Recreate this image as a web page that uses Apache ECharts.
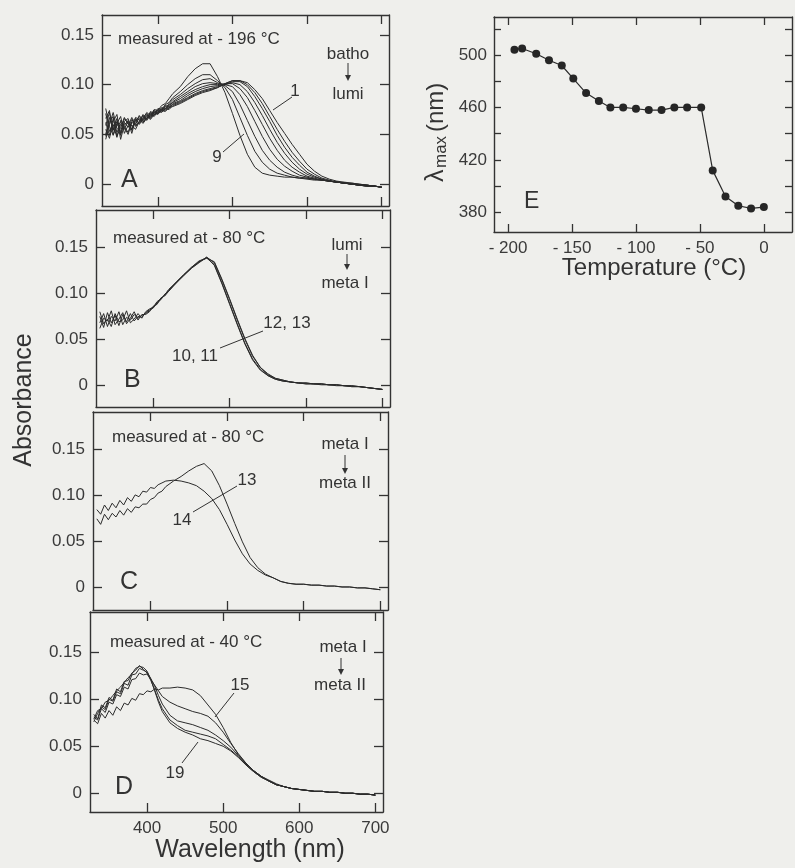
<!DOCTYPE html>
<html>
<head>
<meta charset="utf-8">
<script src="https://cdn.jsdelivr.net/npm/echarts@6/dist/echarts.min.js"></script>
<style>
  html, body { margin: 0; padding: 0; background: #efefec; }
  #chart { width: 795px; height: 868px; }
</style>
</head>
<body>
<div id="chart"></div>
<script>
// wavelength (nm) shared by every spectrum: 5 nm steps up to 420, then 10 nm
const wavelengths = [330, 335, 340, 345, 350, 355, 360, 365, 370, 375, 380, 385, 390, 395, 400, 405, 410, 415, 420,
  430, 440, 450, 460, 470, 480, 490, 500, 510, 520, 530, 540, 550, 560, 570, 580, 590, 600, 610, 620, 630, 640, 650, 660, 670, 680, 690, 700]

// A: measured at -196 C, batho -> lumi (curves 1..9)
const specA1 = [.062, .049, .066, .052, .060, .055, .064, .058, .061, .066, .062, .068, .065, .070, .071, .074, .073, .077, .078,
  .081, .085, .089, .092, .094, .097, .101, .104, .104, .102, .095, .086, .074, .062, .051, .040, .030, .020, .013, .008, .005, .003, .002, .001, .000, -.001, -.002, -.003]
const specA2 = [.050, .067, .054, .063, .051, .062, .057, .065, .059, .063, .069, .064, .070, .068, .073, .072, .076, .075, .079,
  .082, .086, .090, .093, .095, .097, .101, .104, .104, .100, .092, .081, .068, .055, .043, .032, .023, .015, .010, .006, .004, .002, .001, .001, .000, -.001, -.002, -.003]
const specA3 = [.071, .053, .060, .047, .064, .058, .052, .063, .066, .060, .065, .070, .066, .072, .070, .075, .074, .078, .080,
  .083, .087, .091, .094, .096, .098, .100, .103, .103, .098, .088, .076, .063, .049, .037, .027, .019, .012, .008, .005, .003, .002, .001, .000, -.001, -.001, -.002, -.003]
const specA4 = [.045, .060, .072, .056, .053, .066, .061, .055, .064, .068, .063, .066, .071, .069, .074, .073, .078, .076, .081,
  .084, .089, .093, .096, .098, .099, .100, .102, .100, .093, .082, .069, .055, .042, .031, .022, .015, .010, .007, .005, .003, .002, .001, .000, -.001, -.002, -.002, -.003]
const specA5 = [.066, .074, .050, .061, .068, .051, .059, .067, .058, .062, .067, .071, .067, .073, .071, .076, .075, .080, .082,
  .086, .091, .095, .098, .100, .100, .101, .101, .096, .087, .074, .060, .046, .034, .024, .017, .012, .008, .006, .004, .003, .002, .001, .000, -.001, -.002, -.002, -.003]
const specA6 = [.055, .046, .063, .070, .049, .063, .066, .054, .067, .065, .061, .066, .072, .070, .075, .074, .079, .078, .083,
  .088, .093, .098, .101, .102, .101, .100, .098, .090, .078, .063, .048, .035, .025, .018, .013, .009, .007, .005, .004, .003, .002, .001, .000, -.001, -.001, -.002, -.003]
const specA7 = [.076, .058, .049, .059, .062, .057, .050, .062, .060, .069, .064, .069, .068, .074, .072, .077, .076, .081, .085,
  .090, .096, .101, .105, .106, .102, .099, .093, .080, .064, .048, .034, .024, .017, .012, .009, .007, .006, .005, .004, .003, .002, .001, .000, -.001, -.002, -.002, -.003]
const specA8 = [.048, .063, .068, .048, .057, .067, .060, .059, .055, .063, .070, .065, .073, .071, .076, .075, .080, .082, .087,
  .093, .100, .106, .110, .110, .104, .097, .085, .067, .049, .033, .022, .015, .011, .009, .007, .006, .005, .004, .004, .003, .002, .001, .000, -.001, -.001, -.002, -.003]
const specA9 = [.059, .072, .055, .066, .045, .060, .063, .051, .065, .061, .066, .072, .069, .075, .074, .079, .081, .086, .091,
  .098, .108, .116, .121, .121, .108, .092, .071, .049, .030, .017, .011, .009, .008, .007, .007, .006, .006, .005, .004, .003, .002, .001, .000, -.001, -.002, -.002, -.003]

// B: measured at -80 C, lumi -> meta I (curves 10..13)
const specB10 = [.068, .078, .064, .075, .070, .080, .066, .074, .071, .077, .073, .076, .078, .081, .085, .089, .094, .098, .103,
  .111, .120, .127, .134, .139, .130, .110, .088, .066, .045, .028, .017, .011, .007, .005, .004, .003, .003, .002, .002, .001, .001, .000, .000, -.001, -.002, -.003, -.004]
const specB11 = [.075, .063, .079, .068, .076, .065, .077, .069, .078, .070, .075, .074, .079, .082, .084, .090, .093, .099, .102,
  .112, .120, .128, .134, .138, .131, .111, .089, .067, .046, .029, .018, .011, .007, .005, .004, .003, .002, .002, .002, .001, .001, .000, -.001, -.001, -.002, -.003, -.004]
const specB12 = [.062, .073, .070, .081, .066, .072, .079, .067, .073, .080, .071, .077, .077, .080, .086, .088, .095, .097, .102,
  .111, .119, .127, .133, .139, .133, .114, .093, .071, .050, .032, .020, .012, .008, .006, .004, .003, .003, .002, .002, .001, .001, .000, .000, -.001, -.002, -.003, -.004]
const specB13 = [.080, .067, .072, .064, .078, .069, .071, .081, .068, .072, .078, .073, .080, .083, .085, .091, .094, .098, .104,
  .112, .120, .128, .135, .138, .134, .115, .094, .072, .051, .033, .020, .013, .008, .006, .004, .003, .002, .002, .001, .001, .000, .000, -.001, -.001, -.002, -.003, -.004]

// C: measured at -80 C, meta I -> meta II (curves 13, 14)
const specC13 = [.074, .068, .079, .073, .080, .076, .083, .078, .085, .081, .087, .086, .090, .090, .095, .097, .102, .104, .109,
  .115, .120, .126, .131, .134, .126, .110, .090, .069, .049, .032, .021, .014, .010, .006, .004, .003, .003, .002, .002, .001, .001, .000, .000, -.001, -.001, -.002, -.003]
const specC14 = [.084, .079, .089, .083, .091, .086, .094, .089, .097, .093, .100, .098, .104, .103, .108, .107, .111, .113, .115,
  .116, .115, .113, .110, .104, .096, .084, .068, .051, .036, .025, .018, .013, .010, .006, .004, .003, .003, .002, .002, .001, .001, .000, .000, -.001, -.001, -.002, -.003]

// D: measured at -40 C, meta I -> meta II (curves 15..19)
const specD15 = [.078, .074, .085, .080, .088, .083, .092, .088, .096, .094, .101, .099, .106, .105, .109, .108, .111, .110, .112,
  .112, .113, .112, .110, .104, .094, .084, .070, .054, .041, .032, .024, .018, .014, .010, .007, .005, .004, .003, .002, .002, .001, .001, .000, .000, -.001, -.001, -.002]
const specD16 = [.081, .078, .090, .086, .097, .095, .105, .103, .113, .111, .121, .122, .128, .126, .127, .121, .115, .109, .103,
  .097, .093, .090, .087, .085, .082, .075, .065, .053, .042, .032, .024, .018, .013, .009, .007, .005, .004, .003, .002, .002, .001, .001, .000, .000, -.001, -.001, -.002]
const specD17 = [.076, .085, .092, .089, .100, .098, .108, .106, .117, .115, .126, .127, .133, .131, .129, .122, .114, .104, .095,
  .083, .077, .075, .073, .070, .067, .062, .056, .049, .040, .031, .024, .018, .013, .009, .007, .005, .004, .003, .002, .002, .001, .001, .000, .000, -.001, -.001, -.002]
const specD18 = [.084, .079, .094, .091, .102, .099, .111, .108, .119, .120, .128, .131, .136, .132, .128, .120, .110, .099, .090,
  .078, .072, .067, .065, .063, .061, .058, .052, .046, .039, .030, .023, .017, .013, .009, .007, .005, .004, .003, .002, .002, .001, .001, .000, .000, -.001, -.001, -.002]
const specD19 = [.079, .088, .090, .097, .099, .104, .109, .113, .118, .123, .127, .133, .135, .134, .130, .121, .109, .097, .087,
  .075, .069, .065, .062, .058, .056, .053, .050, .045, .038, .030, .023, .017, .013, .009, .007, .005, .004, .003, .002, .002, .001, .001, .000, .000, -.001, -.001, -.002]

// E: lambda max against temperature
const temperatures = [-195, -189, -178, -168, -158, -149, -139, -129, -120, -110, -100, -90, -80, -70, -60, -49, -40, -30, -20, -10, 0]
const lambdaMax = [504, 505, 501, 496, 492, 482, 471, 465, 460, 460, 459, 458, 458, 460, 460, 460, 412, 392, 385, 383, 384]

const wlTicks = [400, 500, 600, 700]
const absTicks = [0, 0.05, 0.1, 0.15]
const tempTicks = [-200, -150, -100, -50, 0]
const lamTicks = [380, 400, 420, 440, 460, 480, 500, 520]
const lamLabels = [380, 420, 460, 500]

const ink = '#2b2b2b'
const font = '"Liberation Sans", Arial, sans-serif'

const panels = [
  { left: 102, top: 15, width: 287, height: 191, yMin: -0.022, yMax: 0.17 },
  { left: 96, top: 210, width: 294, height: 197, yMin: -0.023, yMax: 0.19 },
  { left: 93, top: 412, width: 295, height: 198, yMin: -0.025, yMax: 0.19 },
  { left: 90, top: 612, width: 293, height: 200, yMin: -0.02, yMax: 0.193 }
]

const boxLine = { show: true, onZero: false, lineStyle: { color: '#333', width: 1.4 } }
const tickStyle = (values, len) => ({ show: true, inside: true, length: len, customValues: values, lineStyle: { color: '#333', width: 1.3 } })

const grids = []
const xAxes = []
const yAxes = []
panels.forEach((p, i) => {
  grids.push({ left: p.left, top: p.top, width: p.width, height: p.height })
  const last = i === panels.length - 1
  xAxes.push({
    type: 'value', gridIndex: i, position: 'bottom', min: 325, max: 710,
    axisLine: boxLine, axisTick: tickStyle(wlTicks, 9), splitLine: { show: false },
    axisLabel: { show: last, customValues: wlTicks, margin: 8, color: '#3a3a3a', fontSize: 17, fontFamily: font }
  })
  xAxes.push({
    type: 'value', gridIndex: i, position: 'top', min: 325, max: 710,
    axisLine: boxLine, axisTick: tickStyle(wlTicks, 9), splitLine: { show: false }, axisLabel: { show: false }
  })
  yAxes.push({
    type: 'value', gridIndex: i, position: 'left', min: p.yMin, max: p.yMax,
    axisLine: boxLine, axisTick: tickStyle(absTicks, 9), splitLine: { show: false },
    axisLabel: {
      customValues: absTicks, margin: 8, color: '#3a3a3a', fontSize: 17, fontFamily: font,
      formatter: v => (v === 0 ? '0' : v.toFixed(2))
    }
  })
  yAxes.push({
    type: 'value', gridIndex: i, position: 'right', min: p.yMin, max: p.yMax,
    axisLine: boxLine, axisTick: tickStyle(absTicks, 9), splitLine: { show: false }, axisLabel: { show: false }
  })
})

// panel E
grids.push({ left: 494, top: 17, width: 298, height: 215 })
xAxes.push({
  type: 'value', gridIndex: 4, position: 'bottom', min: -211, max: 22,
  axisLine: boxLine, axisTick: tickStyle(tempTicks, 8), splitLine: { show: false },
  axisLabel: {
    customValues: tempTicks, margin: 8, color: '#3a3a3a', fontSize: 17, fontFamily: font,
    formatter: v => (v < 0 ? '- ' + (-v) : String(v))
  }
})
xAxes.push({
  type: 'value', gridIndex: 4, position: 'top', min: -211, max: 22,
  axisLine: boxLine, axisTick: tickStyle(tempTicks, 8), splitLine: { show: false }, axisLabel: { show: false }
})
yAxes.push({
  type: 'value', gridIndex: 4, position: 'left', min: 365, max: 529,
  axisLine: boxLine, axisTick: tickStyle(lamTicks, 7), splitLine: { show: false },
  axisLabel: { customValues: lamLabels, margin: 7, color: '#3a3a3a', fontSize: 17, fontFamily: font }
})
yAxes.push({
  type: 'value', gridIndex: 4, position: 'right', min: 365, max: 529,
  axisLine: boxLine, axisTick: tickStyle(lamTicks, 7), splitLine: { show: false }, axisLabel: { show: false }
})

function spectrum(vals, panel) {
  return {
    type: 'line', xAxisIndex: panel * 2, yAxisIndex: panel * 2,
    data: vals.map((v, i) => [wavelengths[i], v]),
    symbol: 'none', silent: true,
    lineStyle: { color: ink, width: 1 }
  }
}

const series = [
  ...[specA1, specA2, specA3, specA4, specA5, specA6, specA7, specA8, specA9].map(s => spectrum(s, 0)),
  ...[specB10, specB11, specB12, specB13].map(s => spectrum(s, 1)),
  ...[specC13, specC14].map(s => spectrum(s, 2)),
  ...[specD15, specD16, specD17, specD18, specD19].map(s => spectrum(s, 3)),
  {
    type: 'line', xAxisIndex: 8, yAxisIndex: 8,
    data: temperatures.map((t, i) => [t, lambdaMax[i]]),
    symbol: 'circle', symbolSize: 8, silent: true,
    itemStyle: { color: '#262626' },
    lineStyle: { color: ink, width: 1.2 }
  }
]

// text and leader lines
function label(text, x, y, size, align) {
  return {
    type: 'text', x, y, silent: true,
    style: {
      text, fill: '#333', font: size + 'px ' + font,
      align: align || 'left', verticalAlign: 'middle',
      textAlign: align || 'left', textVerticalAlign: 'middle'
    }
  }
}
function leader(x1, y1, x2, y2) {
  return { type: 'line', silent: true, shape: { x1, y1, x2, y2 }, style: { stroke: '#333', lineWidth: 1 } }
}
function arrow(x, y1, y2) {
  return [
    leader(x, y1, x, y2 - 5),
    { type: 'polygon', silent: true, shape: { points: [[x - 3, y2 - 6], [x + 3, y2 - 6], [x, y2]] }, style: { fill: '#333' } }
  ]
}

const graphic = [
  label('measured at - 196 °C', 118, 39, 17),
  label('batho', 348, 54, 17, 'center'), ...arrow(348, 63, 81), label('lumi', 348, 94, 17, 'center'),
  label('A', 121, 180, 25),
  label('1', 295, 91, 17, 'center'), leader(292, 97, 273, 110),
  label('9', 217, 157, 17, 'center'), leader(223, 152, 244, 134),

  label('measured at - 80 °C', 113, 238, 17),
  label('lumi', 347, 245, 17, 'center'), ...arrow(347, 254, 270), label('meta I', 345, 283, 17, 'center'),
  label('B', 124, 380, 25),
  label('12, 13', 287, 323, 17, 'center'), label('10, 11', 195, 356, 17, 'center'), leader(220, 348, 263, 331),

  label('measured at - 80 °C', 112, 437, 17),
  label('meta I', 345, 444, 17, 'center'), ...arrow(345, 455, 474), label('meta II', 345, 483, 17, 'center'),
  label('13', 247, 480, 17, 'center'), label('14', 182, 520, 17, 'center'), leader(193, 512, 237, 486),
  label('C', 120, 582, 25),

  label('measured at - 40 °C', 110, 642, 17),
  label('meta I', 343, 647, 17, 'center'), ...arrow(341, 658, 675), label('meta II', 340, 685, 17, 'center'),
  label('15', 240, 685, 17, 'center'), leader(234, 693, 215, 717),
  label('19', 175, 773, 17, 'center'), leader(182, 763, 198, 742),
  label('D', 115, 787, 25),

  label('E', 524, 202, 23),

  { ...label('Absorbance', 24, 400, 25, 'center'), rotation: Math.PI / 2 },
  label('Wavelength (nm)', 250, 850, 25, 'center'),
  label('Temperature (°C)', 654, 268, 24, 'center'),
  {
    type: 'group', x: 436, y: 128, rotation: Math.PI / 2, silent: true,
    children: [
      label('λ', -54, 0, 25),
      label('max', -40, 5, 17),
      label('(nm)', -4, 0, 24)
    ]
  }
]

const chart = echarts.init(document.getElementById('chart'))
chart.setOption({
  backgroundColor: '#efefec',
  animation: false,
  grid: grids,
  xAxis: xAxes,
  yAxis: yAxes,
  series,
  graphic
})
</script>
</body>
</html>
